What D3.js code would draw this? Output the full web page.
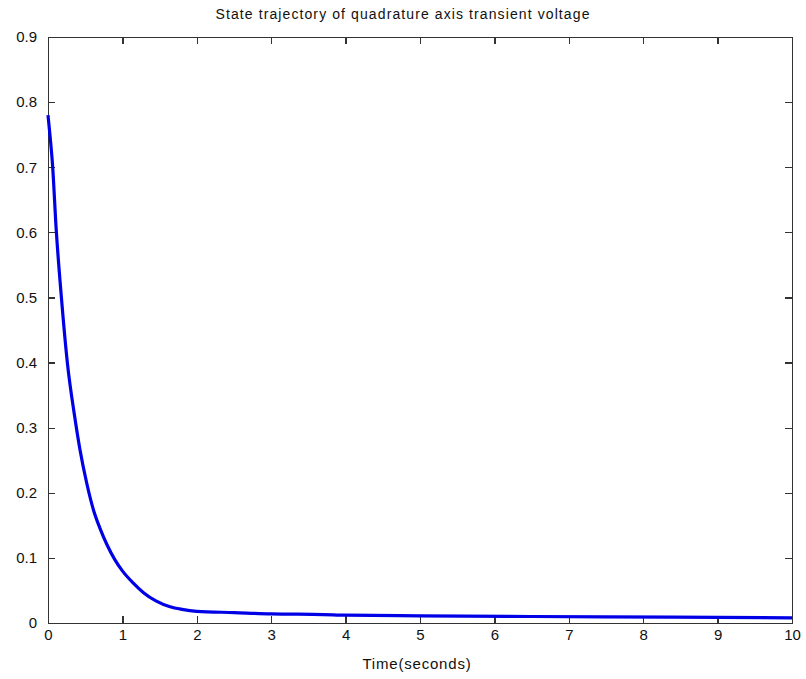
<!DOCTYPE html>
<head>
<meta charset="utf-8">
<script src="https://cdn.jsdelivr.net/npm/d3@7"></script>
<style>
body { margin: 0; background: #fff; font-family: "Liberation Sans", Arial, sans-serif; }
.axis path, .axis line { stroke: #333; stroke-width: 1.3; shape-rendering: crispEdges; }
.axis text { font-size: 15px; fill: #111; font-family: "Liberation Sans", Arial, sans-serif; }
.line { fill: none; stroke: #0000e6; stroke-width: 3.2px; }
</style>
<body>
<div id="chart"></div>
<script>
// time samples (seconds) and voltage values
var times  = [0, 0.03, 0.06, 0.11, 0.18, 0.26, 0.36, 0.43, 0.52, 0.61, 0.70, 0.79, 0.90, 1.0, 1.14, 1.28, 1.45, 1.64, 1.8, 2.0, 2.5, 3.0, 3.7, 4.0, 5.0, 6.5, 8.4, 10];
var values = [0.78, 0.745, 0.705, 0.605, 0.50, 0.40, 0.316, 0.266, 0.215, 0.174, 0.145, 0.121, 0.097, 0.080, 0.062, 0.047, 0.034, 0.025, 0.021, 0.018, 0.016, 0.014, 0.013, 0.012, 0.011, 0.010, 0.009, 0.008];
var xTicks = [0, 1, 2, 3, 4, 5, 6, 7, 8, 9, 10];
var yTicks = [0, 0.1, 0.2, 0.3, 0.4, 0.5, 0.6, 0.7, 0.8, 0.9];

var margin = {top: 37, right: 14, bottom: 56, left: 48},
    width = 806 - margin.left - margin.right,
    height = 679 - margin.top - margin.bottom;

var x = d3.scaleLinear().domain([0, 10]).range([0, width]);
var y = d3.scaleLinear().domain([0, 0.9]).range([height, 0]);

var svg = d3.select("#chart").append("svg")
    .attr("width", 806)
    .attr("height", 679)
  .append("g")
    .attr("transform", "translate(" + margin.left + "," + margin.top + ")");

var data = times.map(function(t, i) { return {t: t, v: values[i]}; });

// bottom and left axes with inward ticks
svg.append("g")
    .attr("class", "axis")
    .attr("transform", "translate(0," + height + ")")
    .call(d3.axisBottom(x).tickValues(xTicks).tickSize(-7).tickPadding(6).tickFormat(d3.format("d")));

svg.append("g")
    .attr("class", "axis")
    .call(d3.axisLeft(y).tickValues(yTicks).tickSize(-7).tickPadding(11)
      .tickFormat(function(d) { return d === 0 ? "0" : d3.format(".1f")(d); }));

// top and right axes, ticks only
svg.append("g")
    .attr("class", "axis")
    .call(d3.axisTop(x).tickValues(xTicks).tickSize(-7).tickFormat(""));

svg.append("g")
    .attr("class", "axis")
    .attr("transform", "translate(" + width + ",0)")
    .call(d3.axisRight(y).tickValues(yTicks).tickSize(-7).tickFormat(""));

var curve = d3.line()
    .x(function(d) { return x(d.t); })
    .y(function(d) { return y(d.v); })
    .curve(d3.curveMonotoneX);

svg.append("path")
    .datum(data)
    .attr("class", "line")
    .attr("d", curve);

// title (sits a little left of the plot centre)
svg.append("text")
    .attr("x", width / 2 - 17)
    .attr("y", -18)
    .style("text-anchor", "middle")
    .style("font-size", "14px")
    .style("letter-spacing", "1.1px")
    .style("fill", "#111")
    .text("State trajectory of quadrature axis transient voltage");

// x label
svg.append("text")
    .attr("x", width / 2 - 3)
    .attr("y", height + 46)
    .style("text-anchor", "middle")
    .style("font-size", "15px")
    .style("letter-spacing", "0.8px")
    .style("fill", "#111")
    .text("Time(seconds)");
</script>
</body>
